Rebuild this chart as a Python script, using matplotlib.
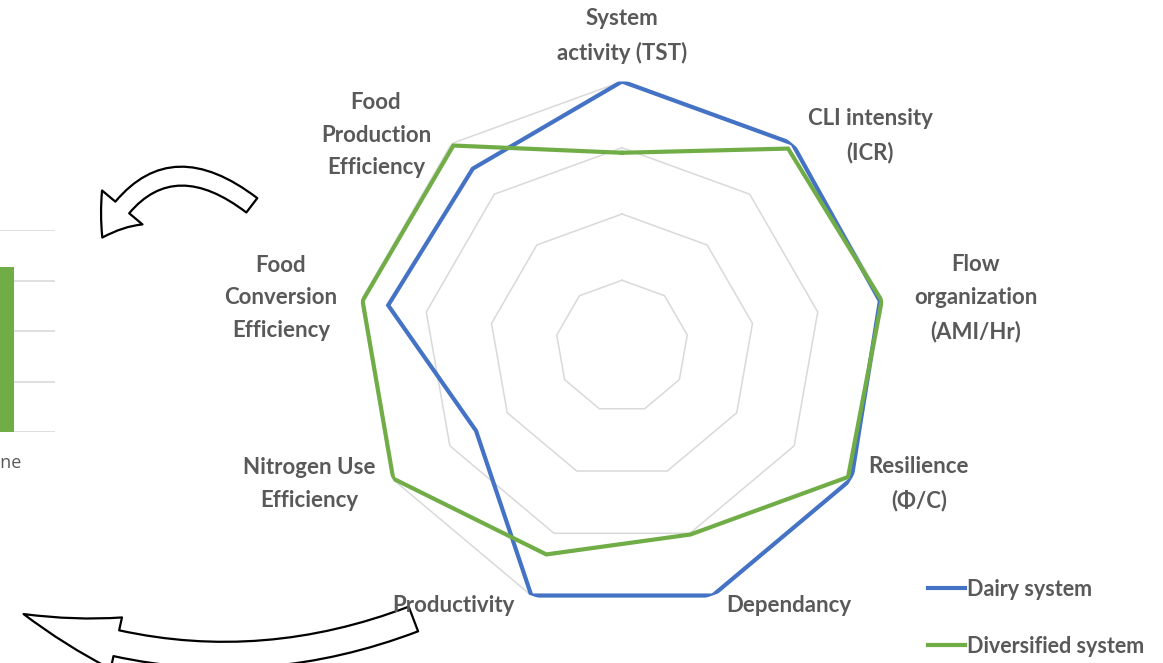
import numpy as np
import matplotlib
matplotlib.use("Agg")
import matplotlib.pyplot as plt
from matplotlib.lines import Line2D
from matplotlib.patches import FancyArrowPatch

# ---------------- data ----------------
axes_labels = ["System\nactivity (TST)", "CLI intensity\n(ICR)", "Flow\norganization\n(AMI/Hr)",
               "Resilience\n(\u03a6/C)", "Dependancy", "Productivity",
               "Nitrogen Use\nEfficiency", "Food\nConversion\nEfficiency", "Food\nProduction\nEfficiency"]
dairy = [1.00, 1.00, 0.988, 1.00, 1.00, 1.00, 0.636, 0.896, 0.876]
diversified = [0.731, 0.975, 0.995, 0.985, 0.755, 0.835, 0.997, 0.994, 0.99]
ring_levels = [0.25, 0.50, 0.75, 1.00]
series_names = ["Dairy system", "Diversified system"]

bar_categories = ["Baseline"]
bar_values = [3.27]
bar_ticks = [0, 1, 2, 3, 4]

BLUE = "#4472C4"
GREEN = "#70AD47"
GRID = "#D9D9D9"
TXT = "#595959"
FONT = "Lato"

W, H = 1163, 663
fig = plt.figure(figsize=(W / 100, H / 100), dpi=100)

# ---------------- radar ----------------
cx, cy, R = 622, 346.5, 265
ax = fig.add_axes([(cx - R) / W, (H - cy - R) / H, 2 * R / W, 2 * R / H], projection="polar")
ax.set_theta_zero_location("N")
ax.set_theta_direction(-1)
n = len(axes_labels)
theta = np.linspace(0, 2 * np.pi, n, endpoint=False)
tc = np.append(theta, theta[0])
for r in ring_levels:
    ax.plot(tc, [r] * (n + 1), color=GRID, lw=1.1, zorder=1)
ax.plot(tc, np.append(dairy, dairy[0]), color=BLUE, lw=3.0, zorder=3, solid_joinstyle="miter")
ax.plot(tc, np.append(diversified, diversified[0]), color=GREEN, lw=3.0, zorder=4, solid_joinstyle="miter")
ax.set_ylim(0, 1)
ax.set_xticks([])
ax.set_yticks([])
ax.grid(False)
ax.spines["polar"].set_visible(False)
ax.patch.set_alpha(0)

# axis labels (pixel positions of label centres)
label_pos = [(622, 36), (870, 136), (976, 298), (919, 484), (789, 605),
             (453, 605), (309, 484), (281, 298), (376, 135)]
for lab, (px, py) in zip(axes_labels, label_pos):
    fig.text(px / W, 1 - py / H, lab, ha="center", va="center", fontsize=16,
             fontweight="bold", color=TXT, family=FONT, linespacing=1.7)

# legend
handles = [Line2D([0], [0], color=BLUE, lw=3), Line2D([0], [0], color=GREEN, lw=3)]
leg = fig.legend(handles, series_names, loc="upper left",
                 bbox_to_anchor=(928 / W, 1 - 579 / H), frameon=False,
                 handlelength=1.7, handletextpad=0.12, labelspacing=1.65,
                 borderpad=0, borderaxespad=0,
                 prop={"family": FONT, "weight": "bold", "size": 15.5})
for t in leg.get_texts():
    t.set_color(TXT)

# ---------------- partial bar chart at left ----------------
bl, br, bt, bb = -150, 55, 230, 432
bax = fig.add_axes([bl / W, (H - bb) / H, (br - bl) / W, (bb - bt) / H])
bax.bar(range(len(bar_categories)), bar_values, width=0.6, color=GREEN, zorder=2)
bax.set_ylim(bar_ticks[0], bar_ticks[-1])
bax.set_yticks(bar_ticks)
bax.set_xlim(-1.52, 0.756)
bax.set_xticks(range(len(bar_categories)))
bax.set_xticklabels(bar_categories, fontsize=13, color=TXT, family="Open Sans")
bax.yaxis.grid(True, color=GRID, lw=1.2, zorder=0)
bax.tick_params(length=0, labelleft=False, pad=16)
for s in bax.spines.values():
    s.set_visible(False)

# ---------------- hollow curved arrows ----------------
ov = fig.add_axes([0, 0, 1, 1], zorder=-1)
ov.set_xlim(0, W)
ov.set_ylim(H, 0)
ov.axis("off")
a1 = FancyArrowPatch((254, 207), (101, 240), connectionstyle="arc3,rad=0.6",
                     arrowstyle="simple,head_width=38,head_length=26,tail_width=13",
                     mutation_scale=1, facecolor="white", edgecolor="black", lw=1.6)
ov.add_patch(a1)
a2 = FancyArrowPatch((416, 618), (21, 613), connectionstyle="arc3,rad=-0.2",
                     arrowstyle="simple,head_width=38,head_length=70,tail_width=19",
                     mutation_scale=1, facecolor="white", edgecolor="black", lw=1.6)
ov.add_patch(a2)

fig.savefig("out.png", dpi=100)
